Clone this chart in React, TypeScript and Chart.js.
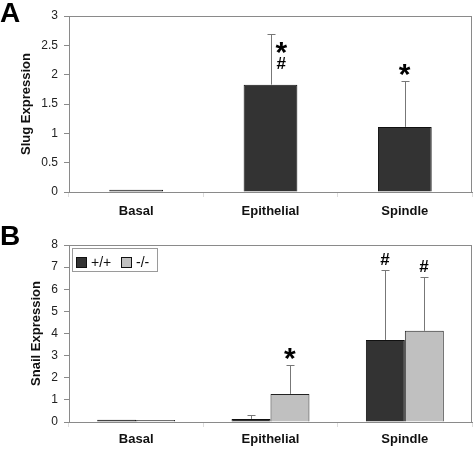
import React, { useEffect, useRef } from "react";
import { Chart, registerables } from "chart.js";

Chart.register(...registerables);

const categories = ["Basal", "Epithelial", "Spindle"];

// Panel A: Slug expression
const slugValues = [0.04, 1.83, 1.11];
const slugErrors = [0, 0.87, 0.78];
const slugTicksMax = 3;
const slugTicksStep = 0.5;
// annotations: [categoryIndex, datasetIndex, text]
const slugMarks: [number, number, string][] = [
  [1, 0, "*#"],
  [2, 0, "*"],
];

// Panel B: Snail expression
const seriesLabels = ["+/+", "-/-"];
const snailWT = [0.1, 0.14, 3.71];
const snailKO = [0.09, 1.27, 4.12];
const snailWTErr = [0, 0.16, 3.17];
const snailKOErr = [0, 1.31, 2.43];
const snailTicksMax = 8;
const snailTicksStep = 1;
const snailMarks: [number, number, string][] = [
  [1, 1, "*"],
  [2, 0, "#"],
  [2, 1, "#"],
];

const FONT = "Arial, 'Liberation Sans', Helvetica, sans-serif";
const DARK = "#333333";
const LIGHT = "#c0c0c0";

function drawGlyph(ctx: CanvasRenderingContext2D, ch: string, cx: number, cy: number) {
  ctx.font = ch === "*" ? `bold 30px ${FONT}` : `bold 17px ${FONT}`;
  const m = ctx.measureText(ch);
  const asc = m.actualBoundingBoxAscent;
  const desc = m.actualBoundingBoxDescent;
  const l = m.actualBoundingBoxLeft;
  const r = m.actualBoundingBoxRight;
  ctx.textBaseline = "alphabetic";
  ctx.textAlign = "left";
  ctx.fillText(ch, cx - (r - l) / 2 + l, cy + (asc - desc) / 2);
}

function makePlugin(
  errors: number[][],
  marks: [number, number, string][],
  letter: string,
  letterY: number,
  legend: boolean
) {
  return {
    id: "custom" + letter,
    afterDatasetsDraw(chart: any) {
      const ctx: CanvasRenderingContext2D = chart.ctx;
      const ca = chart.chartArea;
      const yScale = chart.scales.y;
      ctx.save();
      // plot border
      ctx.strokeStyle = "#8a8a8a";
      ctx.lineWidth = 1;
      ctx.strokeRect(Math.round(ca.left) + 0.5, Math.round(ca.top) + 0.5, Math.round(ca.right - ca.left) - 1, Math.round(ca.bottom - ca.top));
      // error bars
      ctx.strokeStyle = "#777777";
      errors.forEach((errs, di) => {
        const meta = chart.getDatasetMeta(di);
        meta.data.forEach((bar: any, i: number) => {
          const e = errs[i];
          if (!e) return;
          const v = chart.data.datasets[di].data[i] as number;
          const x = Math.round(bar.x) + 0.5;
          const y0 = yScale.getPixelForValue(v);
          const y1 = Math.round(yScale.getPixelForValue(v + e)) + 0.5;
          ctx.beginPath();
          ctx.moveTo(x, y0);
          ctx.lineTo(x, y1);
          ctx.moveTo(x - 4, y1);
          ctx.lineTo(x + 4, y1);
          ctx.stroke();
        });
      });
      // annotations
      ctx.fillStyle = "#000";
      marks.forEach(([ci, di, text]) => {
        const bar: any = chart.getDatasetMeta(di).data[ci];
        const v = (chart.data.datasets[di].data[ci] as number) + errors[di][ci];
        const yTop = yScale.getPixelForValue(v);
        if (text === "*#") {
          drawGlyph(ctx, "*", bar.x + 11, yTop + 14);
          drawGlyph(ctx, "#", bar.x + 11, yTop + 29);
        } else {
          drawGlyph(ctx, text, bar.x, yTop - 11);
        }
      });
      // panel letter
      ctx.font = `bold 28px ${FONT}`;
      ctx.textAlign = "left";
      ctx.textBaseline = "alphabetic";
      ctx.fillText(letter, 0, letterY);
      // legend
      if (legend) {
        const lx = ca.left + 3;
        const ly = ca.top + 3;
        ctx.strokeStyle = "#9a9a9a";
        ctx.strokeRect(lx + 0.5, ly + 0.5, 85, 23);
        ctx.font = `14px ${FONT}`;
        ctx.textBaseline = "middle";
        chart.data.datasets.forEach((ds: any, i: number) => {
          const sx = lx + 4 + i * 45;
          ctx.fillStyle = ds.backgroundColor;
          ctx.fillRect(sx + 0.5, ly + 9.5, 10, 10);
          ctx.strokeStyle = "#111";
          ctx.strokeRect(sx + 0.5, ly + 9.5, 10, 10);
          ctx.fillStyle = "#111";
          ctx.fillText(ds.label, sx + 15, ly + 15);
        });
      }
      ctx.restore();
    },
  };
}

function baseOptions(max: number, step: number, title: string, titlePad: number, xHeight: number, padTop: number, xPad: number, catPct: number) {
  return {
    responsive: false,
    animation: false as const,
    events: [],
    layout: { padding: { top: padTop, right: 3, left: 0, bottom: 0 } },
    plugins: { legend: { display: false }, tooltip: { enabled: false } },
    datasets: { bar: { categoryPercentage: catPct, barPercentage: 1 } },
    scales: {
      x: {
        offset: true,
        grid: { display: true, offset: true, drawOnChartArea: false, tickLength: 5, color: "#dddddd" },
        border: { color: "#8a8a8a" },
        ticks: { color: "#111", padding: xPad, font: { family: FONT, size: 13, weight: "bold" } },
        afterFit: (s: any) => {
          s.height = xHeight;
        },
      },
      y: {
        min: 0,
        max,
        grid: { drawOnChartArea: false, tickLength: 5, color: "#8a8a8a" },
        border: { color: "#8a8a8a" },
        ticks: {
          stepSize: step,
          color: "#222",
          padding: 6,
          font: { family: FONT, size: 12 },
          callback: (v: any) => String(Number(v)),
        },
        title: {
          display: true,
          text: title,
          color: "#111",
          font: { family: FONT, size: 13, weight: "bold" },
          padding: { top: titlePad, bottom: 0 },
        },
        afterFit: (s: any) => {
          s.width = 69;
        },
      },
    },
  };
}

export default function App() {
  const refA = useRef<HTMLCanvasElement>(null);
  const refB = useRef<HTMLCanvasElement>(null);

  useEffect(() => {
    const a = new Chart(refA.current!, {
      type: "bar",
      data: {
        labels: categories,
        datasets: [
          { label: "Slug", data: slugValues, backgroundColor: DARK, borderColor: "#111", borderWidth: 1 },
        ],
      },
      options: baseOptions(slugTicksMax, slugTicksStep, "Slug Expression", 19, 33, 16, 7, 0.4) as any,
      plugins: [makePlugin([slugErrors], slugMarks, "A", 22, false)],
    });
    const b = new Chart(refB.current!, {
      type: "bar",
      data: {
        labels: categories,
        datasets: [
          { label: seriesLabels[0], data: snailWT, backgroundColor: DARK, borderColor: "#111", borderWidth: 1 },
          { label: seriesLabels[1], data: snailKO, backgroundColor: LIGHT, borderColor: "#222", borderWidth: 1 },
        ],
      },
      options: baseOptions(snailTicksMax, snailTicksStep, "Snail Expression", 29, 27, 20, 5, 0.58) as any,
      plugins: [makePlugin([snailWTErr, snailKOErr], snailMarks, "B", 20, true)],
    });
    return () => {
      a.destroy();
      b.destroy();
    };
  }, []);

  return (
    <div style={{ position: "fixed", left: 0, top: 0, width: 475, height: 449, background: "#fff" }}>
      <canvas ref={refA} width={475} height={225} style={{ position: "absolute", left: 0, top: 0 }} />
      <canvas ref={refB} width={475} height={224} style={{ position: "absolute", left: 0, top: 225 }} />
    </div>
  );
}
